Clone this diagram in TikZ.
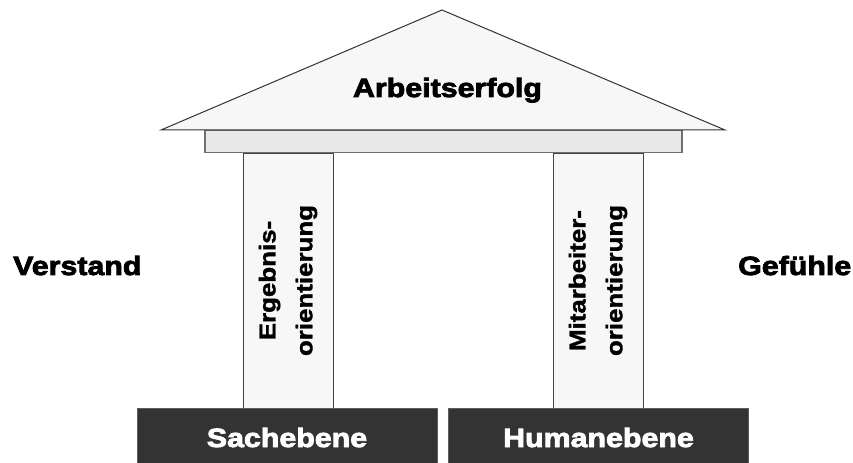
\documentclass[tikz,border=0pt]{standalone}
\usepackage{fontspec}
\newfontfamily\heavy{Liberation Sans Bold}[FakeStretch=1.15,FakeBold=3]
\newfontfamily\pillarfont{Liberation Sans Bold}[FakeStretch=1.13,FakeBold=1.5]
\definecolor{roofline}{HTML}{333333}
\definecolor{rooffill}{HTML}{F7F7F7}
\definecolor{beamfill}{HTML}{E8E8E8}
\definecolor{beamline}{HTML}{707070}
\definecolor{pillarline}{HTML}{444444}
\definecolor{basefill}{HTML}{333333}
\begin{document}
\begin{tikzpicture}[x=1bp,y=-1bp,
  bigtext/.style={font=\heavy\fontsize{26.5}{30}\selectfont, inner sep=0pt},
  pillarbox/.style={draw=pillarline, line width=0.9bp, fill=rooffill, rotate=90,
    minimum width=255bp, minimum height=90bp, inner sep=0pt, align=center,
    font=\pillarfont\fontsize{23}{37}\selectfont},
  baseblock/.style={fill=basefill, draw=basefill!80!white, line width=0.6bp, minimum width=300bp, minimum height=55bp,
    inner sep=0pt, text=white, text height=23bp, text depth=0bp,
    font=\heavy\fontsize{26.5}{30}\selectfont},
  beam/.style={draw=beamline, line width=1.2bp, fill=beamfill},
  roof/.style={draw=roofline, line width=1bp, fill=rooffill}
]
\useasboundingbox (0,0) rectangle (853,463);
% pillars
\node[pillarbox] (p1) at (288,280.5) {Ergebnis-\\orientierung};
\node[pillarbox] (p2) at (598,280.5) {Mitarbeiter-\\orientierung};
% entablature
\path[beam] (205,130) rectangle (682,152.5);
% roof
\path[roof] (161,130) -- (442,10) -- (725,130) -- cycle;
\node[bigtext, anchor=base] (roofl) at (447.5,97) {Arbeitserfolg};
% base blocks
\node[baseblock] (b1) at (287,435.5) {Sachebene};
\node[baseblock] (b2) at (598.5,435.5) {Humanebene};
% side labels
\node[bigtext, anchor=base west] (left) at (13,275) {Verstand};
\node[bigtext, anchor=base west] (right) at (738,275) {Gefühle};
\end{tikzpicture}
\end{document}
